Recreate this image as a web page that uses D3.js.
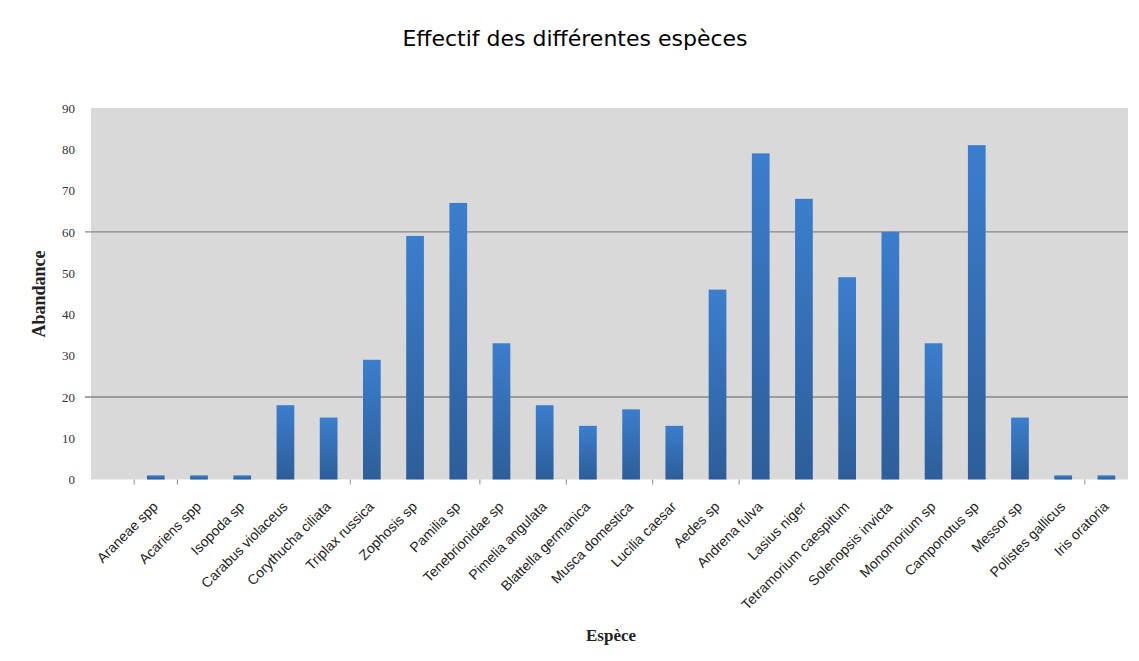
<!DOCTYPE html>
<html>
<head>
<meta charset="utf-8">
<script src="https://cdn.jsdelivr.net/npm/d3@7"></script>
<style>
  html, body { margin: 0; padding: 0; background: #ffffff; }
  svg { display: block; }
</style>
</head>
<body>
<svg id="chart" width="1139" height="661"></svg>
<script>
// Species counted (the first slot of the category axis is left blank)
const species = [
  "", "Araneae spp", "Acariens spp", "Isopoda sp", "Carabus violaceus",
  "Corythucha ciliata", "Triplax russica", "Zophosis sp", "Pamilia sp",
  "Tenebrionidae sp", "Pimelia angulata", "Blattella germanica",
  "Musca domestica", "Lucilia caesar", "Aedes sp", "Andrena fulva",
  "Lasius niger", "Tetramorium caespitum", "Solenopsis invicta",
  "Monomorium sp", "Camponotus sp", "Messor sp", "Polistes gallicus",
  "Iris oratoria"
];

// Abundance per species
const abundance = [
  null, 1, 1, 1, 18,
  15, 29, 59, 67,
  33, 18, 13,
  17, 13, 46, 79,
  68, 49, 60,
  33, 81, 15, 1,
  1
];

const yTicks = [0, 10, 20, 30, 40, 50, 60, 70, 80, 90];
const gridValues = [20, 60];
// category boundaries that carry a tick mark
const tickBoundaries = [1, 2, 6, 9, 11, 13, 15, 23];

const titleText = "Effectif des différentes espèces";
const xTitle = "Espèce";
const yTitle = "Abandance";

const svg = d3.select("#chart");
const plot = { left: 91, right: 1128, top: 108, bottom: 479.5 };

const x = d3.scaleBand()
  .domain(d3.range(species.length))
  .range([plot.left, plot.right])
  .paddingInner(0.59)
  .paddingOuter(0.295);

const band = d3.scaleBand()
  .domain(d3.range(species.length))
  .range([plot.left, plot.right])
  .padding(0);

const y = d3.scaleLinear().domain([0, 90]).range([plot.bottom, plot.top]);

// bar gradient
const defs = svg.append("defs");
const grad = defs.append("linearGradient")
  .attr("id", "barGrad").attr("x1", 0).attr("y1", 0).attr("x2", 0).attr("y2", 1);
grad.append("stop").attr("offset", "0%").attr("stop-color", "#3b7ecd");
grad.append("stop").attr("offset", "100%").attr("stop-color", "#2d5e99");

// plot background
svg.append("rect")
  .attr("x", plot.left).attr("y", plot.top)
  .attr("width", plot.right - plot.left).attr("height", plot.bottom - plot.top)
  .attr("fill", "#d9d9d9");

// gridlines
svg.append("g").selectAll("line")
  .data(gridValues).join("line")
  .attr("x1", plot.left - 6).attr("x2", plot.right)
  .attr("y1", d => y(d)).attr("y2", d => y(d))
  .attr("stroke", "#878787").attr("stroke-width", 1.4);

// bars
svg.append("g").selectAll("rect")
  .data(abundance.map((v, i) => ({ v, i })).filter(d => d.v != null))
  .join("rect")
  .attr("x", d => x(d.i))
  .attr("width", x.bandwidth())
  .attr("y", d => y(d.v))
  .attr("height", d => y(0) - y(d.v))
  .attr("fill", "url(#barGrad)");

// y axis labels
const yAxis = d3.axisLeft(y).tickValues(yTicks).tickSize(0).tickPadding(16);
svg.append("g")
  .attr("transform", `translate(${plot.left},0)`)
  .call(yAxis)
  .call(g => g.select(".domain").remove())
  .call(g => g.selectAll("text")
    .attr("font-family", "'Liberation Serif', serif")
    .attr("font-size", 13)
    .attr("fill", "#333"));

// x axis tick marks at selected category boundaries
svg.append("g").selectAll("line")
  .data(tickBoundaries).join("line")
  .attr("x1", d => band(d)).attr("x2", d => band(d))
  .attr("y1", plot.bottom).attr("y2", plot.bottom + 5)
  .attr("stroke", "#888").attr("stroke-width", 1);

// x axis labels, rotated
svg.append("g").selectAll("text")
  .data(species.map((s, i) => ({ s, i })).filter(d => d.s))
  .join("text")
  .attr("transform", d => `translate(${x(d.i) + x.bandwidth() / 2 + 3},${plot.bottom + 28}) rotate(-45)`)
  .attr("text-anchor", "end")
  .attr("font-family", "'Liberation Sans', sans-serif")
  .attr("font-size", 14)
  .attr("fill", "#222")
  .text(d => d.s);

// title
svg.append("text")
  .attr("x", 575).attr("y", 46)
  .attr("text-anchor", "middle")
  .attr("font-family", "'DejaVu Sans', sans-serif")
  .attr("font-size", 22)
  .attr("fill", "#000")
  .text(titleText);

// axis titles
svg.append("text")
  .attr("x", 611).attr("y", 641)
  .attr("text-anchor", "middle")
  .attr("font-family", "'Liberation Serif', serif")
  .attr("font-weight", "bold")
  .attr("font-size", 17)
  .attr("fill", "#222")
  .text(xTitle);

svg.append("text")
  .attr("transform", "translate(45,294) rotate(-90)")
  .attr("text-anchor", "middle")
  .attr("font-family", "'Liberation Serif', serif")
  .attr("font-weight", "bold")
  .attr("font-size", 18)
  .attr("fill", "#222")
  .text(yTitle);
</script>
</body>
</html>
